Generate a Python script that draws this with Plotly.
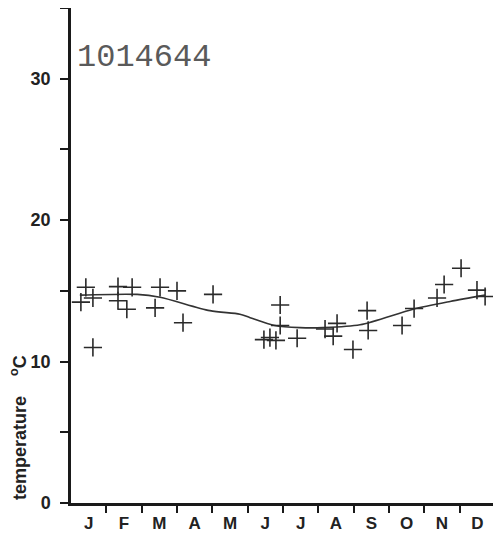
import plotly.graph_objects as go

# Observations: month position (0-12) and temperature (°C)
obs_month = [0.28, 0.42, 0.62, 0.62, 1.33, 1.33, 1.58, 1.73, 2.38, 2.52, 3.00, 3.17, 4.02,
             5.46, 5.63, 5.80, 5.92, 5.92, 6.40, 7.19, 7.42, 7.53, 7.98, 8.38, 8.41,
             9.37, 9.71, 10.36, 10.56, 11.04, 11.49, 11.72]
obs_temp = [14.2, 15.25, 14.5, 11.0, 15.3, 14.3, 13.7, 15.25, 13.8, 15.25, 15.0, 12.75, 14.75,
            11.55, 11.7, 11.5, 14.0, 12.55, 11.65, 12.3, 11.8, 12.7, 10.85, 13.6, 12.2,
            12.55, 13.75, 14.5, 15.45, 16.6, 15.05, 14.6]

# Fitted seasonal curve
fit_month = [0.25, 1.87, 2.52, 3.93, 4.78, 5.07, 5.77, 6.48, 7.13, 8.18, 9.68, 10.73, 11.72]
fit_temp = [14.7, 14.75, 14.55, 13.6, 13.35, 13.1, 12.55, 12.4, 12.4, 12.6, 13.7, 14.25, 14.7]

month_labels = ["J", "F", "M", "A", "M", "J", "J", "A", "S", "O", "N", "D"]
month_centers = [i + 0.5 for i in range(12)]
month_bounds = [i for i in range(1, 13)]

y_ticks = [0, 5, 10, 15, 20, 25, 30, 35]
y_ticktext = ["0", "", "10", "", "20", "", "30", ""]

fig = go.Figure()
fig.add_trace(go.Scatter(x=fit_month, y=fit_temp, mode="lines",
                         line=dict(color="#333333", width=1.6, shape="spline", smoothing=0.8),
                         hoverinfo="skip", showlegend=False))
fig.add_trace(go.Scatter(x=obs_month, y=obs_temp, mode="markers",
                         marker=dict(symbol="cross-thin", size=13,
                                     line=dict(color="#2a2a2a", width=1.6)),
                         showlegend=False))

ytick_font = dict(family="Liberation Sans", size=18, color="#222222", weight="bold")
xtick_font = dict(family="Liberation Sans", size=17, color="#222222", weight="bold")

fig.update_layout(
    width=501, height=534,
    margin=dict(l=63, r=14, t=0, b=39),
    paper_bgcolor="white", plot_bgcolor="white",
    xaxis=dict(range=[0, 12], showgrid=False, zeroline=False, showline=True,
               linecolor="#1a1a1a", linewidth=2.5,
               tickvals=month_centers, ticktext=month_labels, ticks="",
               ticklabelstandoff=3, tickfont=xtick_font,
               minor=dict(tickvals=month_bounds, ticks="outside", ticklen=7,
                          tickwidth=2, tickcolor="#1a1a1a"),
               automargin=False),
    yaxis=dict(range=[0, 35], showgrid=False, zeroline=False, showline=True,
               linecolor="#1a1a1a", linewidth=2.5,
               tickvals=y_ticks, ticktext=y_ticktext, ticks="outside",
               ticklen=8, tickwidth=2, tickcolor="#1a1a1a",
               ticklabelstandoff=6, tickfont=ytick_font, automargin=False),
)

fig.add_annotation(text="temperature\u00a0\u00a0\u00a0\u00a0<sup>o</sup>C",
                   textangle=-90,
                   xref="paper", yref="paper", x=-0.122, y=0.152,
                   xanchor="center", yanchor="middle", showarrow=False,
                   font=dict(family="Liberation Sans", size=18, color="#222222", weight="bold"))

fig.add_annotation(text="1014644", xref="paper", yref="paper",
                   x=0.010, y=0.899, xanchor="left", yanchor="middle", showarrow=False,
                   font=dict(family="Liberation Mono", size=32, color="#5a5a5a"))

fig.write_html("out.html")
